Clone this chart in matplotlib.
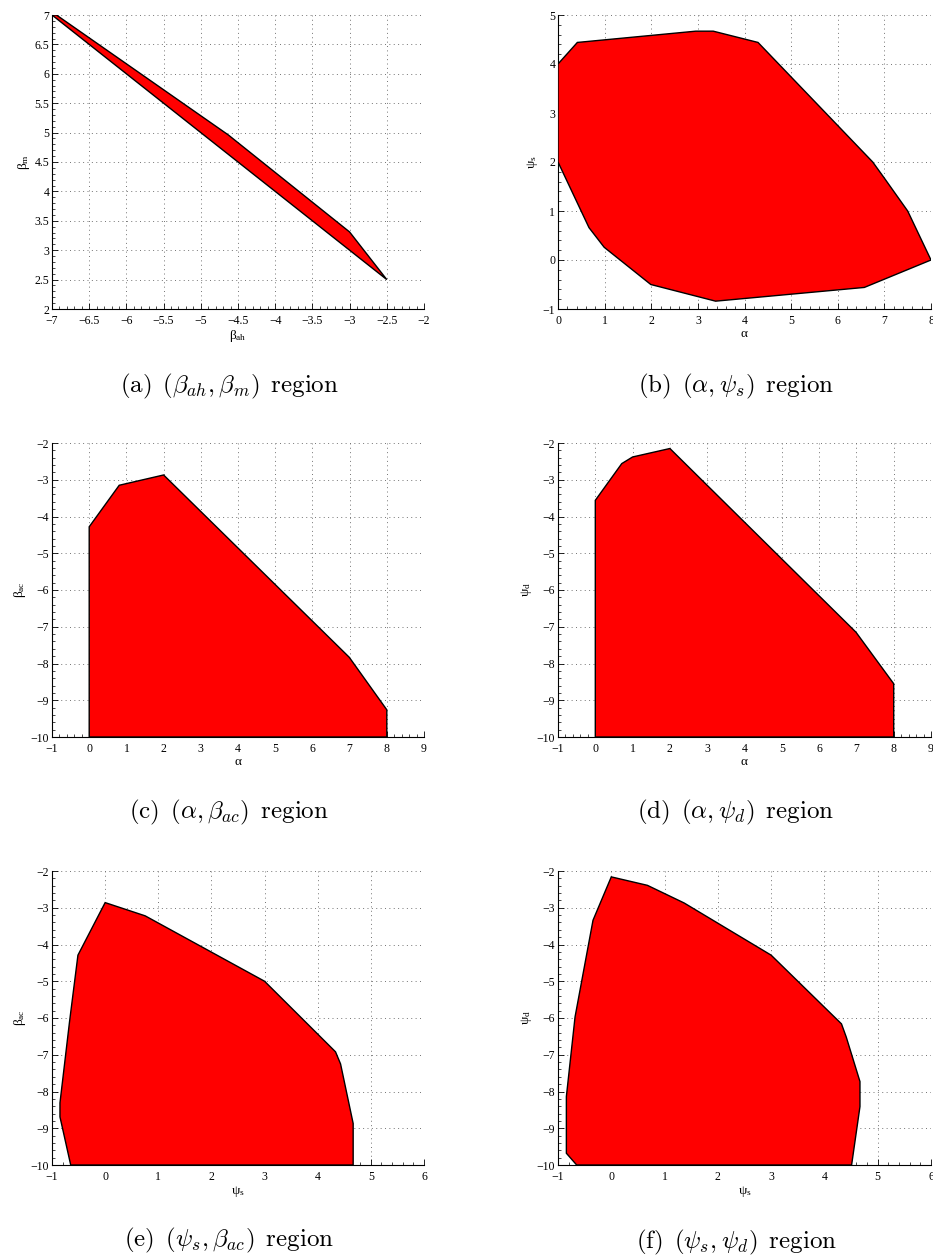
import numpy as np
import matplotlib
matplotlib.use('Agg')
import matplotlib.pyplot as plt
from matplotlib.ticker import FuncFormatter, AutoMinorLocator, MultipleLocator

plt.rcParams['font.family'] = ['Liberation Serif', 'DejaVu Serif']
plt.rcParams['mathtext.fontset'] = 'custom'
plt.rcParams['mathtext.rm'] = 'Liberation Serif'
plt.rcParams['mathtext.it'] = 'Liberation Serif:italic'

# feasible region boundaries (polygon vertices)
a_x = [-7.0, -6.94, -4.63, -3.0, -2.5]
a_y = [7.0, 7.0, 4.96, 3.31, 2.5]

b_x = [0.0, 0.415, 2.955, 3.33, 4.29, 6.75, 7.0, 7.5, 8.0, 6.57, 3.38, 1.99, 0.99, 0.665, 0.0]
b_y = [4.0, 4.44, 4.67, 4.67, 4.44, 2.0, 1.67, 1.0, 0.0, -0.56, -0.84, -0.50, 0.26, 0.66, 2.0]

c_x = [0.0, 0.0, 0.807, 2.0, 6.99, 8.0, 8.0]
c_y = [-10.0, -4.28, -3.15, -2.87, -7.83, -9.26, -10.0]

d_x = [0.0, 0.0, 0.71, 1.0, 2.0, 6.99, 8.0, 8.0]
d_y = [-10.0, -3.56, -2.56, -2.38, -2.15, -7.15, -8.55, -10.0]

e_x = [-0.648, -0.85, -0.85, -0.67, -0.512, 0.0, 0.753, 3.0, 4.335, 4.43, 4.667, 4.667]
e_y = [-10.0, -8.69, -8.31, -6.10, -4.29, -2.86, -3.22, -5.0, -6.92, -7.25, -8.87, -10.0]

f_x = [-0.65, -0.843, -0.843, -0.68, -0.343, 0.0, 0.678, 1.367, 3.0, 4.32, 4.41, 4.667, 4.667, 4.51]
f_y = [-10.0, -9.68, -8.14, -5.97, -3.34, -2.16, -2.39, -2.87, -4.29, -6.16, -6.52, -7.73, -8.41, -10.0]

panels = [
    (a_x, a_y, (-7, -2), (2, 7), 0.5, 0.5, r'$\mathrm{β}_{\mathrm{ah}}$', r'$\mathrm{β}_{\mathrm{m}}$',
     r'$\mathrm{(a)}\ \,(\beta_{ah},\beta_m)\ \,\mathrm{region}$'),
    (b_x, b_y, (0, 8), (-1, 5), 1, 1, r'$\mathrm{α}$', r'$\mathrm{ψ}_{\mathrm{s}}$',
     r'$\mathrm{(b)}\ \,(\alpha,\psi_s)\ \,\mathrm{region}$'),
    (c_x, c_y, (-1, 9), (-10, -2), 1, 1, r'$\mathrm{α}$', r'$\mathrm{β}_{\mathrm{ac}}$',
     r'$\mathrm{(c)}\ \,(\alpha,\beta_{ac})\ \,\mathrm{region}$'),
    (d_x, d_y, (-1, 9), (-10, -2), 1, 1, r'$\mathrm{α}$', r'$\mathrm{ψ}_{\mathrm{d}}$',
     r'$\mathrm{(d)}\ \,(\alpha,\psi_d)\ \,\mathrm{region}$'),
    (e_x, e_y, (-1, 6), (-10, -2), 1, 1, r'$\mathrm{ψ}_{\mathrm{s}}$', r'$\mathrm{β}_{\mathrm{ac}}$',
     r'$\mathrm{(e)}\ \,(\psi_s,\beta_{ac})\ \,\mathrm{region}$'),
    (f_x, f_y, (-1, 6), (-10, -2), 1, 1, r'$\mathrm{ψ}_{\mathrm{s}}$', r'$\mathrm{ψ}_{\mathrm{d}}$',
     r'$\mathrm{(f)}\ \,(\psi_s,\psi_d)\ \,\mathrm{region}$'),
]

W, H = 933, 1257
fig = plt.figure(figsize=(W / 100, H / 100), dpi=100)

# axes boxes in pixels: left, top, right, bottom
boxes = [(52, 15, 424, 309), (558, 15, 931, 309),
         (52, 443, 424, 737), (558, 443, 931, 737),
         (52, 871, 424, 1165), (558, 871, 931, 1165)]
caption_pos = [(229, 386), (736, 386), (229, 812), (736, 812), (229, 1240), (736, 1242)]

fmt = FuncFormatter(lambda v, p: ('%g' % v).replace('-', '\u2212'))

for (px, py, xl, yl, dx, dy, xlab, ylab, cap), (l, t, r, b), (cx, cy) in zip(panels, boxes, caption_pos):
    ax = fig.add_axes([l / W, 1 - b / H, (r - l) / W, (b - t) / H])
    ax.fill(px, py, facecolor='#ff0000', edgecolor='black', linewidth=1.0, zorder=3)
    ax.set_xlim(xl)
    ax.set_ylim(yl)
    ax.xaxis.set_major_locator(MultipleLocator(dx))
    ax.yaxis.set_major_locator(MultipleLocator(dy))
    ax.xaxis.set_minor_locator(AutoMinorLocator(5))
    ax.yaxis.set_minor_locator(AutoMinorLocator(5))
    ax.xaxis.set_major_formatter(fmt)
    ax.yaxis.set_major_formatter(fmt)
    ax.tick_params(which='major', direction='in', length=4, width=0.6, labelsize=8.5)
    ax.tick_params(axis='x', which='major', pad=4)
    ax.tick_params(axis='y', which='major', pad=2)
    ax.tick_params(which='minor', direction='in', length=2, width=0.5)
    ax.grid(True, which='major', linestyle=(0, (1, 3.5)), color='0.45', linewidth=0.7, zorder=1)
    ax.set_axisbelow(True)
    for s in ['top', 'right']:
        ax.spines[s].set_visible(False)
    for s in ['left', 'bottom']:
        ax.spines[s].set_linewidth(0.8)
    ax.set_xlabel(xlab, fontsize=9.5, labelpad=1)
    ax.set_ylabel(ylab, fontsize=9.5, labelpad=2)
    fig.text(cx / W, 1 - cy / H, cap, ha='center', va='center', fontsize=18, math_fontfamily='cm')

fig.savefig('out.png', dpi=100)
